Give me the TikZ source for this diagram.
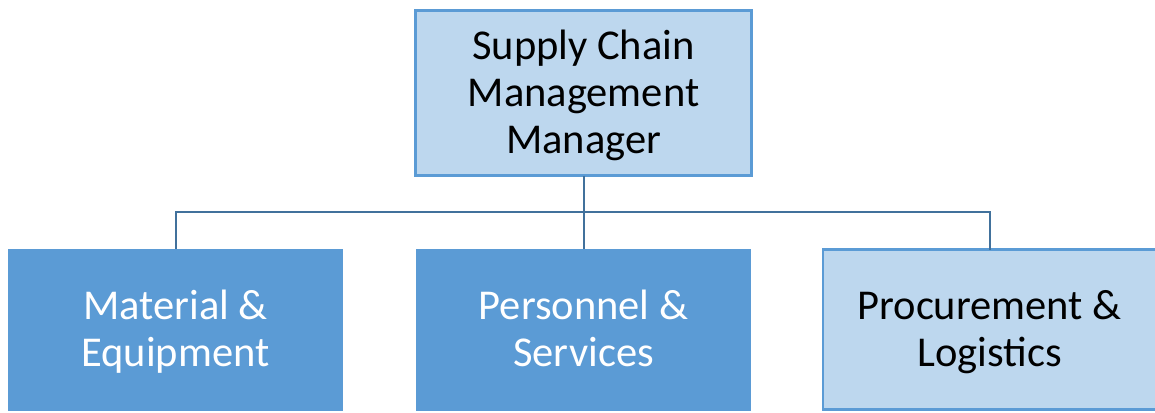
\documentclass[tikz,border=0pt]{standalone}
\usepackage{fontspec}
\setmainfont{Carlito}
\usetikzlibrary{positioning}
\definecolor{boxblue}{HTML}{5B9BD5}
\definecolor{paleblue}{HTML}{BDD7EE}
\definecolor{lineblue}{HTML}{41719C}
\newcommand{\upstrut}{\rule[0pt]{0pt}{36pt}}
\newcommand{\downstrut}{\rule[-9pt]{0pt}{0pt}}

\begin{document}
\begin{tikzpicture}[x=1pt, y=1pt, node distance=73pt and 73pt, text centered, font=\fontsize{42.5}{47}\selectfont]
  \useasboundingbox (0,0) rectangle (1155,-412);
  % Styles
  \tikzstyle{head}=[rectangle, draw=boxblue, line width=2.5pt, fill=paleblue, minimum width=336pt, minimum height=165pt, align=center, outer sep=0pt]
  \tikzstyle{unit}=[rectangle, fill=boxblue, text=white, minimum width=335pt, minimum height=162pt, align=center, outer sep=0pt]
  \tikzstyle{lightunit}=[rectangle, draw=boxblue, line width=2.5pt, fill=paleblue, minimum width=333pt, minimum height=160pt, align=center, outer sep=0pt]
  \tikzstyle{link}=[line width=2pt, lineblue]

  % Manager
  \node[head] (scm) at (583.5,-93) {\upstrut Supply Chain\\Management\\Manager\downstrut};
  % Units
  \node[unit, below=73pt of scm] (pers) {\upstrut Personnel \&\\Services\downstrut};
  \node[unit, left=73pt of pers] (mat) {\upstrut Material \&\\Equipment\downstrut};
  \node[lightunit, right=72pt of pers] (proc) {\upstrut Procurement \&\\Logistics\downstrut};
  \coordinate[below=36pt of scm] (bus);

  % Lines
  \draw[link] (scm) -- (pers);
  \draw[link] (mat.north) |- (bus) -| (proc.north);
\end{tikzpicture}
\end{document}
